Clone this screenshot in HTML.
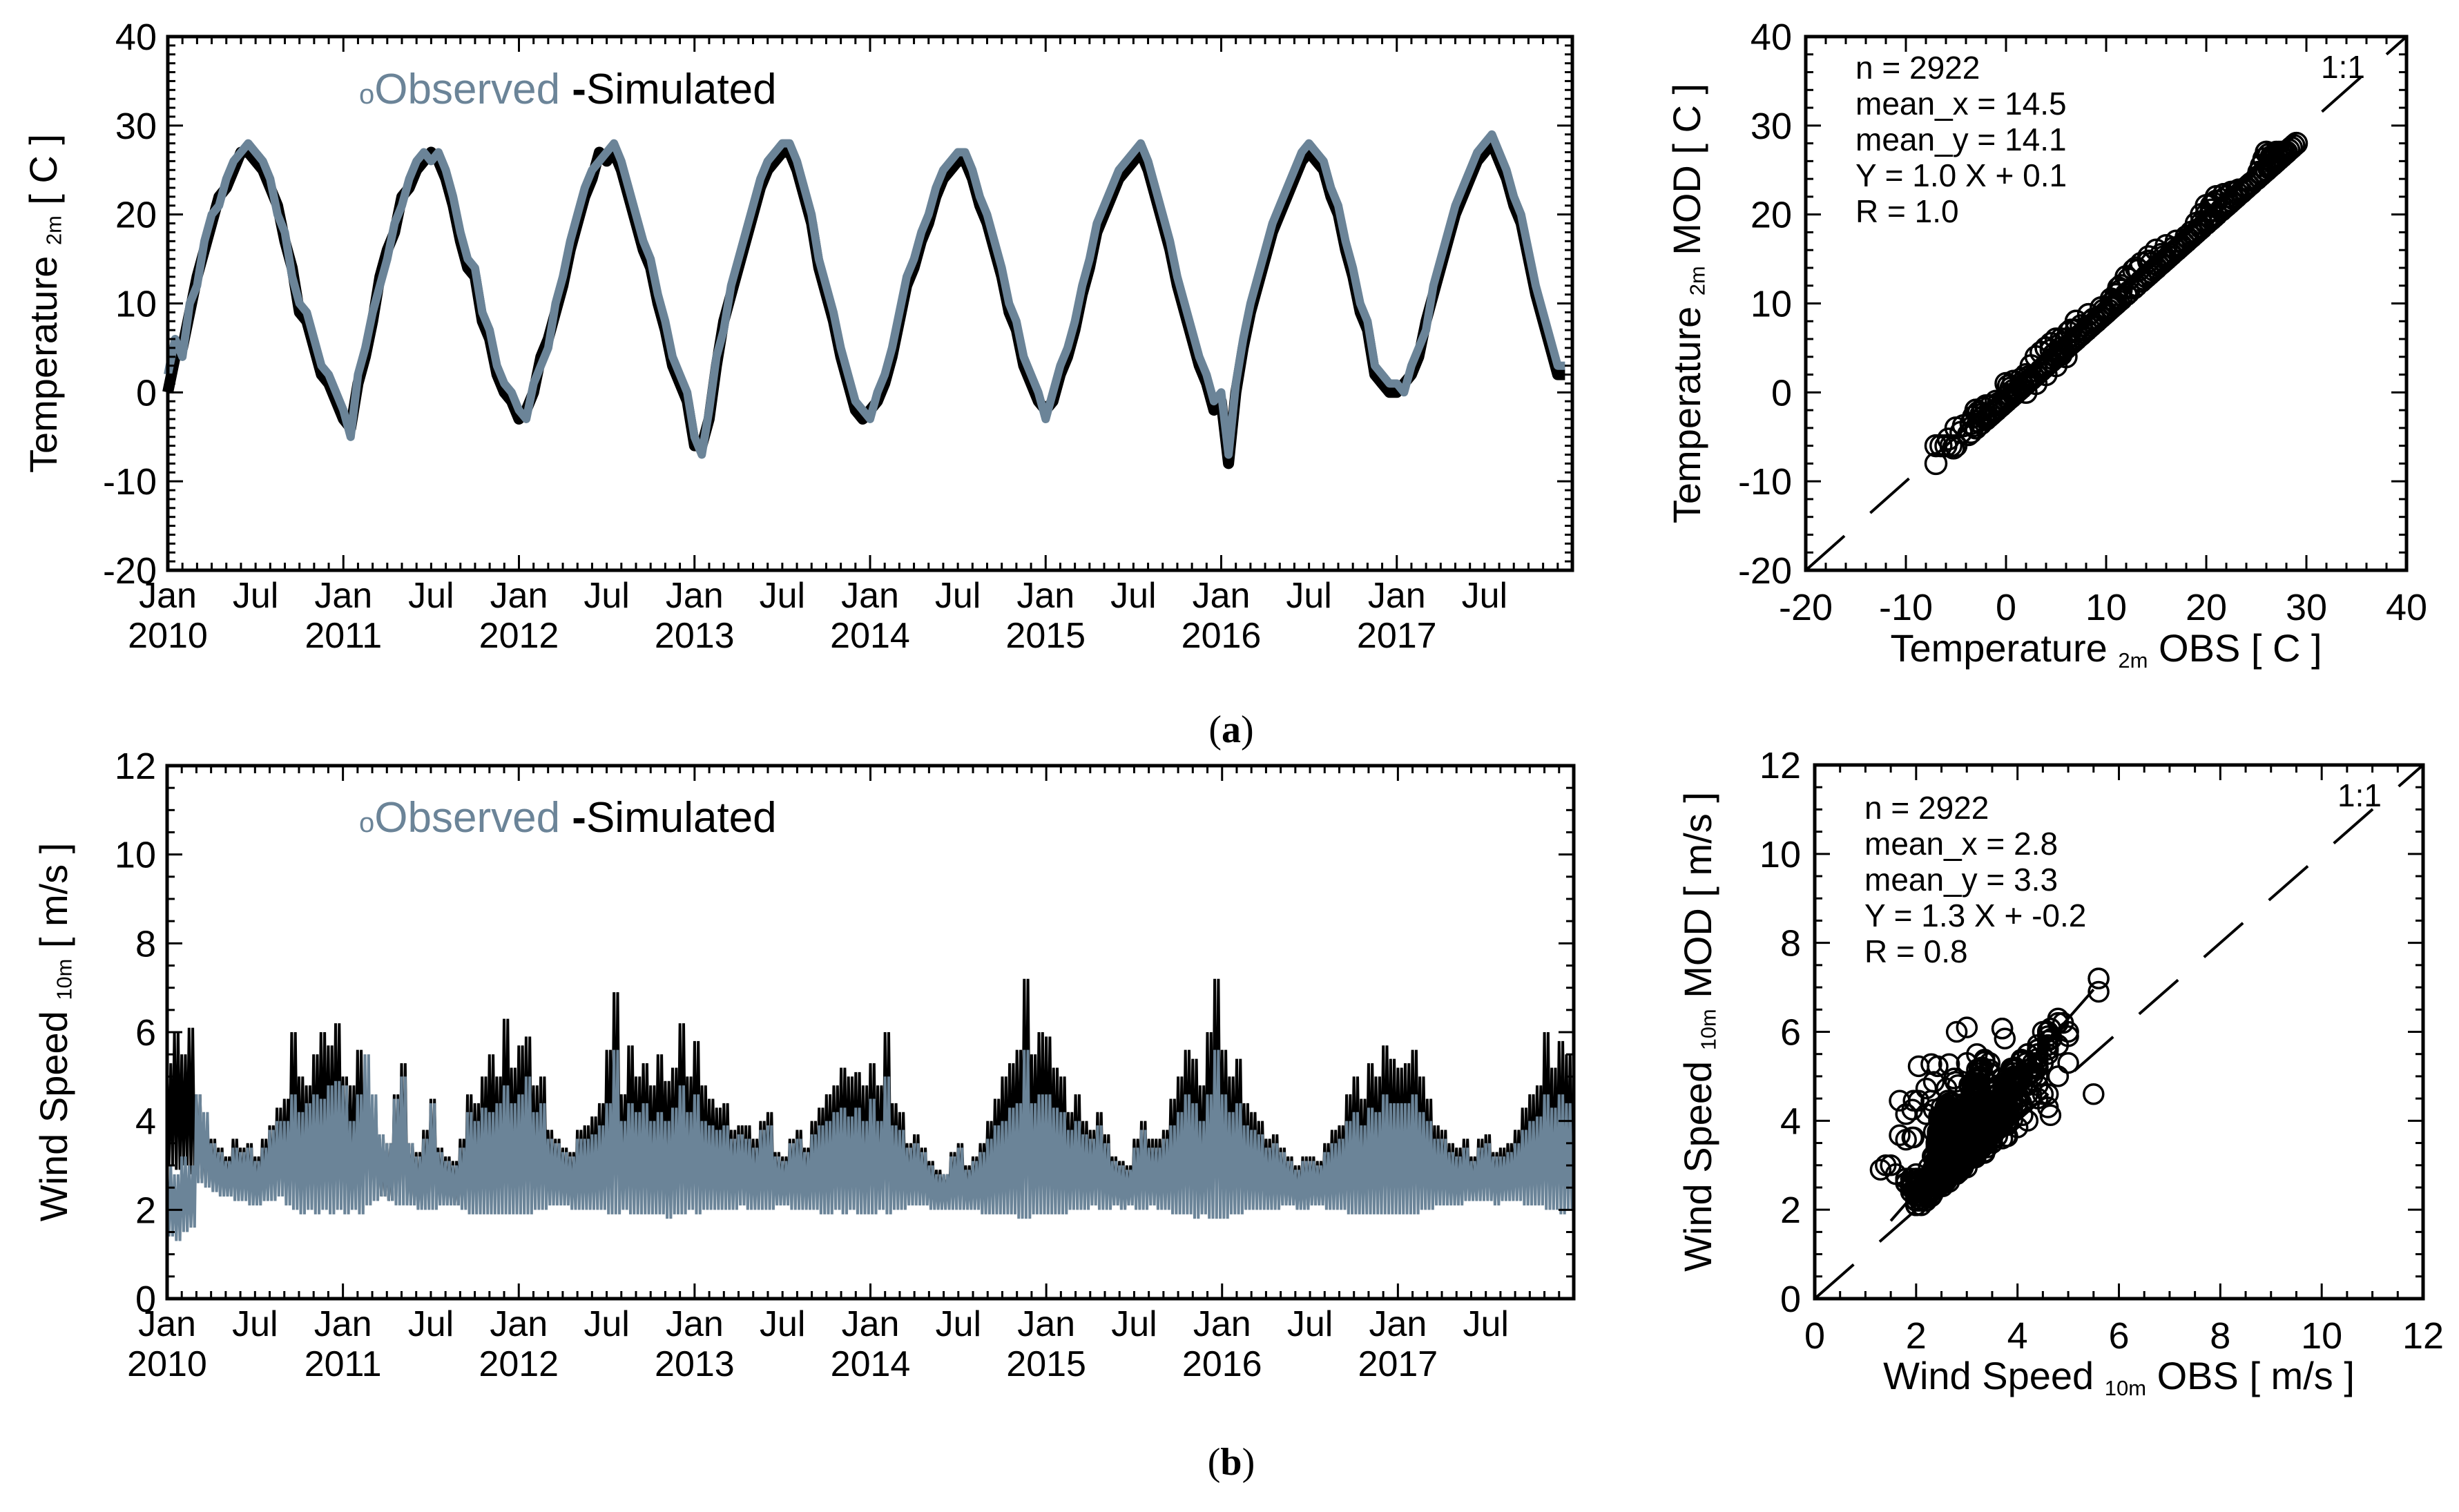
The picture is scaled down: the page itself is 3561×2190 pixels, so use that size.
<!DOCTYPE html>
<html><head><meta charset="utf-8">
<style>
html,body{margin:0;padding:0;background:#fff;}
svg{display:block;}
text{font-family:"Liberation Sans",sans-serif;fill:#000;}
</style></head>
<body>
<svg id="fig" width="3561" height="2190" viewBox="0 0 3561 2190" xmlns="http://www.w3.org/2000/svg">
<rect x="0" y="0" width="3561" height="2190" fill="#fff"/>
<g id="layer"></g>
<text x="1783" y="1075" font-size="56" text-anchor="middle" style="font-family:'Liberation Serif',serif">(<tspan font-weight="bold">a</tspan>)</text>
<text x="1783" y="2136" font-size="56" text-anchor="middle" style="font-family:'Liberation Serif',serif">(<tspan font-weight="bold">b</tspan>)</text>
</svg>
<script>
// ---------------- DATA (half-monthly, Jan 2010 - Dec 2017) ----------------
const T_OBS = [
2,6,4,10,12,17,20,21,24,26,27,28,27,26,24,20,18,13,10,9,6,3,2,0,
-2,-5,2,5,9,12,15,19,21,24,26,27,26,27,25,22,18,15,14,9,7,3,1,0,
-2,-3,1,3,5,10,13,17,20,23,25,26,27,28,26,23,20,17,15,11,8,4,2,0,
-5,-7,-2,4,7,12,15,18,21,24,26,27,28,28,26,23,20,15,12,9,5,2,-1,-2,
-3,0,2,5,9,13,15,18,20,23,25,26,27,27,25,22,20,17,14,10,8,4,2,0,
-3,0,3,5,8,12,15,19,21,23,25,26,27,28,26,23,20,17,13,10,7,4,2,-1,
0,-7,1,6,10,13,16,19,21,23,25,27,28,27,26,23,21,17,14,10,8,3,2,1,
1,0,3,5,7,12,15,18,21,23,25,27,28,29,27,25,22,20,16,12,9,6,3,3];
const T_SIM = [
0,4,5,9,13,16,19,22,23,25,27,27,26,25,23,21,17,14,9,8,5,2,1,-1,
-3,-4,1,4,8,13,16,18,22,23,25,26,27,26,24,21,17,14,13,8,6,2,0,-1,
-3,-2,0,4,6,9,12,16,19,22,24,27,26,27,25,22,19,16,14,10,7,3,1,-1,
-6,-6,-3,3,8,11,14,17,20,23,25,26,27,27,25,22,19,14,11,8,4,1,-2,-3,
-2,-1,1,4,8,12,14,17,19,22,24,25,26,26,24,21,19,16,13,9,7,3,1,-1,
-2,-1,2,4,7,11,14,18,20,22,24,25,26,27,25,22,19,16,12,9,6,3,1,-2,
-1,-8,0,5,9,12,15,18,20,22,24,26,27,26,25,22,20,16,13,9,7,2,1,0,
0,1,2,4,8,11,14,17,20,22,24,26,27,28,26,24,21,19,15,11,8,5,2,2];
const W_SIM_MAX = [
5.3,6.0,5.5,6.1,4.6,4.0,3.6,3.4,3.2,3.6,3.4,3.5,3.2,3.6,3.9,4.3,4.5,6.0,5.0,4.8,5.5,6.0,5.7,6.2,
5.0,4.8,5.6,4.6,4.3,3.6,3.5,4.6,5.3,3.5,3.3,3.8,4.5,3.4,3.2,3.1,3.6,4.6,4.4,5.0,5.5,5.0,6.3,5.2,
5.7,5.9,4.8,5.0,3.8,3.6,3.4,3.3,3.8,3.9,4.1,4.4,5.6,6.9,4.6,5.7,5.0,5.3,4.8,5.5,4.9,5.2,6.2,5.0,
5.8,4.8,4.5,4.3,4.4,3.8,3.9,3.9,3.6,4.0,4.2,3.3,3.2,3.6,3.8,3.4,4.0,4.3,4.6,4.8,5.2,5.0,5.1,4.8,
5.3,4.8,6.0,4.4,4.2,3.5,3.7,3.4,3.1,2.9,2.8,3.3,3.5,3.0,3.2,3.5,4.0,4.5,5.0,5.3,5.6,7.2,5.5,6.0,
5.9,5.2,5.0,4.2,4.6,4.0,3.8,4.2,3.7,3.2,3.1,3.0,3.6,4.0,3.6,3.6,3.8,4.5,5.0,5.6,5.4,4.8,6.0,7.2,
5.6,5.0,5.4,4.4,4.2,4.0,3.6,3.7,3.4,3.2,3.0,3.2,3.2,3.1,3.5,3.8,3.9,4.6,5.0,4.5,5.3,5.0,5.7,5.4,
5.2,5.3,5.6,5.0,4.5,3.9,3.8,3.5,3.4,3.6,3.2,3.6,3.7,3.3,3.4,3.5,3.8,4.3,4.6,4.8,6.0,5.2,5.8,5.5];
const W_SIM_MIN = [
3.0,2.9,3.0,2.8,2.7,2.6,2.5,2.4,2.4,2.5,2.4,2.3,2.3,2.4,2.6,2.6,2.7,2.8,2.6,2.7,2.6,2.7,2.5,2.6,
2.6,2.5,2.6,2.7,2.5,2.3,2.2,2.3,2.4,2.2,2.1,2.2,2.3,2.3,2.2,2.1,2.2,2.4,2.5,2.5,2.6,2.5,2.6,2.6,
2.6,2.6,2.5,2.5,2.4,2.4,2.3,2.3,2.4,2.4,2.5,2.5,2.6,2.7,2.6,2.6,2.7,2.6,2.6,2.7,2.6,2.6,2.7,2.6,
2.6,2.5,2.6,2.5,2.5,2.4,2.4,2.3,2.3,2.4,2.3,2.3,2.3,2.4,2.4,2.4,2.5,2.5,2.6,2.6,2.6,2.6,2.5,2.5,
2.5,2.5,2.6,2.5,2.4,2.4,2.3,2.3,2.2,2.2,2.2,2.3,2.3,2.2,2.3,2.4,2.4,2.5,2.5,2.6,2.6,2.7,2.6,2.6,
2.6,2.6,2.5,2.5,2.4,2.4,2.3,2.3,2.3,2.2,2.2,2.2,2.3,2.3,2.3,2.3,2.4,2.5,2.5,2.6,2.6,2.5,2.6,2.7,
2.6,2.5,2.5,2.4,2.4,2.4,2.3,2.2,2.2,2.2,2.1,2.1,2.2,2.2,2.3,2.4,2.4,2.5,2.5,2.5,2.6,2.6,2.6,2.6,
2.6,2.6,2.6,2.5,2.4,2.4,2.3,2.3,2.3,2.4,2.3,2.3,2.4,2.4,2.4,2.5,2.5,2.5,2.5,2.6,2.6,2.5,2.5,2.6];
const W_OBS_MAX = [
3.0,2.8,3.2,3.0,4.6,4.2,3.5,3.3,3.1,3.4,3.3,3.4,3.1,3.4,3.8,4.0,4.0,4.6,4.2,4.4,4.6,4.5,4.8,4.9,
4.8,4.0,4.6,5.5,4.6,3.7,3.5,4.5,5.0,3.5,3.2,3.6,4.4,3.3,3.1,3.0,3.4,4.2,4.0,4.3,4.2,4.4,4.8,4.4,
4.6,5.0,4.2,4.4,3.6,3.5,3.3,3.2,3.6,3.6,3.7,3.9,4.4,5.6,4.0,4.4,4.2,4.4,4.0,4.2,4.0,4.3,4.8,4.2,
4.6,4.0,3.9,3.8,3.9,3.6,3.7,3.6,3.4,3.8,3.9,3.2,3.1,3.5,3.6,3.3,3.7,3.9,4.0,4.2,4.3,4.1,4.3,4.0,
4.5,4.0,5.0,3.9,3.8,3.4,3.5,3.3,3.0,2.8,2.8,3.2,3.4,2.9,3.1,3.3,3.6,3.9,4.0,4.3,4.4,5.6,4.4,4.6,
4.6,4.3,4.2,3.8,4.0,3.7,3.6,3.9,3.5,3.1,3.0,2.9,3.4,3.8,3.4,3.4,3.6,3.9,4.2,4.6,4.4,4.0,4.6,5.6,
4.6,4.2,4.4,3.9,3.8,3.7,3.4,3.5,3.3,3.1,2.9,3.1,3.1,3.0,3.3,3.5,3.6,4.0,4.2,3.9,4.3,4.2,4.6,4.4,
4.4,4.4,4.6,4.2,4.0,3.6,3.6,3.3,3.2,3.4,3.1,3.4,3.5,3.2,3.2,3.3,3.5,3.8,4.0,4.1,4.6,4.3,4.6,4.4];
const W_OBS_MIN = [
1.4,1.3,1.5,1.6,2.6,2.5,2.4,2.3,2.3,2.2,2.2,2.1,2.1,2.2,2.2,2.3,2.1,2.0,1.9,2.0,1.9,2.0,1.9,2.0,
1.9,2.0,1.9,2.1,2.2,2.3,2.2,2.1,2.1,2.1,2.0,2.0,2.0,2.1,2.1,2.1,2.0,1.9,1.9,1.9,1.9,1.9,1.9,1.9,
1.9,1.9,2.0,2.0,2.1,2.1,2.1,2.0,2.0,2.0,2.0,2.0,1.9,1.9,2.0,1.9,1.9,1.9,1.9,1.9,1.8,1.9,1.9,2.0,
1.9,2.0,2.0,2.0,2.0,2.0,2.1,2.0,2.0,2.0,2.0,2.1,2.1,2.0,2.0,2.0,2.0,1.9,1.9,2.0,1.9,2.0,1.9,1.9,
1.9,2.0,1.9,2.0,2.0,2.1,2.1,2.1,2.0,2.0,2.0,2.0,2.0,2.0,2.0,1.9,1.9,1.9,1.9,1.9,1.8,1.8,1.9,1.9,
1.9,1.9,1.9,2.0,2.0,2.0,2.1,2.0,2.0,2.1,2.0,2.1,2.0,2.0,2.1,2.0,2.0,1.9,1.9,1.9,1.8,1.9,1.8,1.8,
1.8,1.9,1.9,2.0,2.0,2.0,2.0,2.0,2.1,2.1,2.0,2.0,2.1,2.1,2.0,2.0,2.0,1.9,1.9,1.9,1.9,1.9,1.9,1.9,
1.9,1.9,1.9,2.0,2.0,2.1,2.1,2.1,2.1,2.2,2.2,2.2,2.2,2.1,2.2,2.2,2.2,2.1,2.1,2.1,2.0,2.0,1.9,2.0];
const YEARS = [2010,2011,2012,2013,2014,2015,2016,2017];
const T_TICKS = [-20,-10,0,10,20,30,40];
const W_TICKS = [0,2,4,6,8,10,12];
const T_STATS = ["n = 2922","mean_x = 14.5","mean_y = 14.1","Y = 1.0 X + 0.1","R = 1.0"];
const W_STATS = ["n = 2922","mean_x = 2.8","mean_y = 3.3","Y = 1.3 X + -0.2","R = 0.8"];
const W_FIT = [1.3, -0.2];

// ---------------- RENDERING ----------------
const NS = "http://www.w3.org/2000/svg";
const layer = document.getElementById("layer");
const BLUE = "#6b8498";
function mk(tag, attrs, parent){
  const e = document.createElementNS(NS, tag);
  for (const k in attrs) e.setAttribute(k, attrs[k]);
  (parent||layer).appendChild(e);
  return e;
}
function lin(d0,d1,r0,r1){ return v => r0 + (v-d0)/(d1-d0)*(r1-r0); }
const PER = 24;
function tOf(i){ return 2010 + i/PER; }

function frame(g, X0,X1,Y0,Y1){
  const r = mk("rect",{x:X0,y:Y0,width:X1-X0,height:Y1-Y0,fill:"none",stroke:"#000","stroke-width":5},g);
  
  
}
function tick(g,x1,y1,x2,y2,w){
  mk("line",{x1:x1,y1:y1,x2:x2,y2:y2,stroke:"#000","stroke-width":w||3},g);
}
function label(g,txt,x,y,anchor,size,name){
  const t = mk("text",{x:x,y:y,"text-anchor":anchor,"font-size":size},g);
  t.textContent = txt;
  
  
  return t;
}
function yTitle(g, cx, cy, main, sub, rest, size, name){
  const t = mk("text",{x:cx,y:cy,"text-anchor":"middle","font-size":size,transform:`rotate(-90 ${cx} ${cy})`},g);
  
  
  t.appendChild(document.createTextNode(main+" "));
  const s = mk("tspan",{"font-size":size*0.55,dy:size*0.12},t); s.textContent = sub;
  const r = mk("tspan",{dy:-size*0.12},t); r.textContent = " "+rest;
  return t;
}

// ---------- time-series panel ----------
function timePanel(name, X0,X1,Y0,Y1, ymin,ymax, yticks, yminor, drawFn, legendY, titleParts, titleX){
  const g = mk("g",{});
  
  
  const xs = lin(2010,2018,X0,X1), ys = lin(ymin,ymax,Y1,Y0);
  drawFn(g, xs, ys);
  for (let v=ymin; v<=ymax+1e-9; v+=yminor){
    const major = yticks.some(t=>Math.abs(t-v)<1e-6);
    const L = major?22:11;
    tick(g,X0,ys(v),X0+L,ys(v)); tick(g,X1,ys(v),X1-L,ys(v));
  }
  yticks.forEach(v=>label(g,String(v),X0-16,ys(v)+19,"end",54,"y-tick-label"));
  for (let m=0;m<=96;m++){
    const x = xs(2010+m/12); const major = m%12===0; const L = major?22:11;
    tick(g,x,Y1,x,Y1-L); tick(g,x,Y0,x,Y0+L);
  }
  YEARS.forEach(y=>{
    label(g,"Jan",xs(y),Y1+54,"middle",52,"x-tick-label-jan");
    label(g,"Jul",xs(y+0.5),Y1+54,"middle",52,"x-tick-label-jul");
    label(g,String(y),xs(y),Y1+112,"middle",52,"x-tick-label-year");
  });
  frame(g,X0,X1,Y0,Y1);
  const lg = mk("text",{x:520,y:legendY,"font-size":62},g);
  
  
  const a = mk("tspan",{fill:BLUE,"font-size":40},lg); a.textContent="o";
  const b = mk("tspan",{fill:BLUE},lg); b.textContent="Observed ";
  const c = mk("tspan",{fill:"#000","font-weight":"bold"},lg); c.textContent="-";
  const d = mk("tspan",{fill:"#000"},lg); d.textContent="Simulated";
  yTitle(g, titleX, (Y0+Y1)/2, titleParts[0], titleParts[1], titleParts[2], 56, "y-axis-title");
}

timePanel("temperature-timeseries",243,2277,53,826,-20,40,T_TICKS,1,(g,xs,ys)=>{
  let ps = T_SIM.map((v,i)=>`${xs(tOf(i)).toFixed(1)},${ys(v).toFixed(1)}`).join(" ");
  const s = mk("polyline",{points:ps,fill:"none",stroke:"#000","stroke-width":16,"stroke-linejoin":"round"},g);
  
  
  ps = T_OBS.map((v,i)=>`${xs(tOf(i)).toFixed(1)},${ys(v).toFixed(1)}`).join(" ");
  const o = mk("polyline",{points:ps,fill:"none",stroke:BLUE,"stroke-width":12,"stroke-linejoin":"round"},g);
  
  
}, 150, ["Temperature","2m","[ C ]"], 82);

function zig(maxA,minA,xs,ys){
  const pts=[]; const dt=1/PER;
  for (let i=0;i<maxA.length;i++){
    for (let k=0;k<2;k++){
      const t0 = tOf(i)+k*dt/2;
      pts.push(`${xs(t0).toFixed(1)},${ys(maxA[i]).toFixed(1)}`);
      pts.push(`${xs(t0+dt/4).toFixed(1)},${ys(minA[i]).toFixed(1)}`);
    }
  }
  return pts.join(" ");
}
timePanel("wind-timeseries",242,2279,1109,1881,0,12,W_TICKS,0.5,(g,xs,ys)=>{
  const s = mk("polyline",{points:zig(W_SIM_MAX,W_SIM_MIN,xs,ys),fill:"none",stroke:"#000","stroke-width":4},g);
  
  
  const o = mk("polyline",{points:zig(W_OBS_MAX,W_OBS_MIN,xs,ys),fill:"none",stroke:BLUE,"stroke-width":4},g);
  
  
}, 1205, ["Wind Speed","10m","[ m/s ]"], 97);

// ---------- scatter panels ----------
function scatterPanel(name,X0,X1,Y0,Y1,min,max,ticks,minor,pts,stats,statY,fit,titleParts,xTitleY,yTitleX,r){
  const g = mk("g",{});
  
  
  const xs = lin(min,max,X0,X1), ys = lin(min,max,Y1,Y0);
  const l = mk("line",{x1:xs(min),y1:ys(min),x2:xs(max),y2:ys(max),stroke:"#000","stroke-width":4,"stroke-dasharray":"75 50"},g);
  
  
  pts.forEach(p=>{
    const c = mk("circle",{cx:xs(p[0]).toFixed(1),cy:ys(p[1]).toFixed(1),r:r,fill:"none",stroke:"#000","stroke-width":3.5},g);
    
    
  });
  if (fit){
    const f = mk("line",{x1:xs(1.5),y1:ys(fit[0]*1.5+fit[1]),x2:xs(5.5),y2:ys(fit[0]*5.5+fit[1]),stroke:"#000","stroke-width":4},g);
    
    
  }
  for (let v=min; v<=max+1e-9; v+=minor){
    const major = ticks.some(t=>Math.abs(t-v)<1e-6); const L = major?22:11;
    tick(g,X0,ys(v),X0+L,ys(v)); tick(g,X1,ys(v),X1-L,ys(v));
    tick(g,xs(v),Y1,xs(v),Y1-L); tick(g,xs(v),Y0,xs(v),Y0+L);
  }
  ticks.forEach(v=>{
    label(g,String(v),X0-20,ys(v)+19,"end",54,"y-tick-label");
    label(g,String(v),xs(v),Y1+72,"middle",54,"x-tick-label");
  });
  frame(g,X0,X1,Y0,Y1);
  stats.forEach((s,i)=>label(g,s,X0+72,statY+i*52,"start",46,"stats-text"));
  label(g,"1:1",X1-60,Y0+60,"end",46,"one-to-one-label");
  const t = mk("text",{x:(X0+X1)/2,y:xTitleY,"text-anchor":"middle","font-size":56},g);
  
  
  t.appendChild(document.createTextNode(titleParts[0]+" "));
  const s1 = mk("tspan",{"font-size":31,dy:9},t); s1.textContent = titleParts[1];
  const s2 = mk("tspan",{dy:-9},t); s2.textContent = " OBS "+titleParts[2];
  yTitle(g, yTitleX, (Y0+Y1)/2, titleParts[0], titleParts[1], "MOD "+titleParts[2], 56, "y-axis-title");
}

const tPts = [];
for (let i=0;i<T_OBS.length;i++){
  const j = Math.min(i+1,T_OBS.length-1);
  for (let k=0;k<4;k++){
    const a=k/4;
    tPts.push([T_OBS[i]*(1-a)+T_OBS[j]*a, T_SIM[i]*(1-a)+T_SIM[j]*a]);
  }
}
scatterPanel("temperature-scatter",2615,3485,53,826,-20,40,T_TICKS,2,tPts,T_STATS,114,null,["Temperature","2m","[ C ]"],958,2462,15);

const wPts = [];
for (let i=0;i<W_OBS_MAX.length;i++){
  const om=(W_OBS_MAX[i]+W_OBS_MIN[i])/2, sm=(W_SIM_MAX[i]+W_SIM_MIN[i])/2;
  wPts.push([W_OBS_MAX[i], W_SIM_MAX[i]]);
  wPts.push([W_OBS_MIN[i], W_SIM_MIN[i]]);
  wPts.push([om, sm]);
  wPts.push([(3*W_OBS_MAX[i]+W_OBS_MIN[i])/4, (3*W_SIM_MAX[i]+W_SIM_MIN[i])/4]);
  wPts.push([(W_OBS_MAX[i]+3*W_OBS_MIN[i])/4, (W_SIM_MAX[i]+3*W_SIM_MIN[i])/4]);
  wPts.push([om, (W_SIM_MAX[i]+sm)/2]);
  wPts.push([(W_OBS_MIN[i]+om)/2, sm]);
}
scatterPanel("wind-scatter",2628,3509,1108,1881,0,12,W_TICKS,0.5,wPts,W_STATS,1186,W_FIT,["Wind Speed","10m","[ m/s ]"],2012,2478,14);
</script>
</body></html>
